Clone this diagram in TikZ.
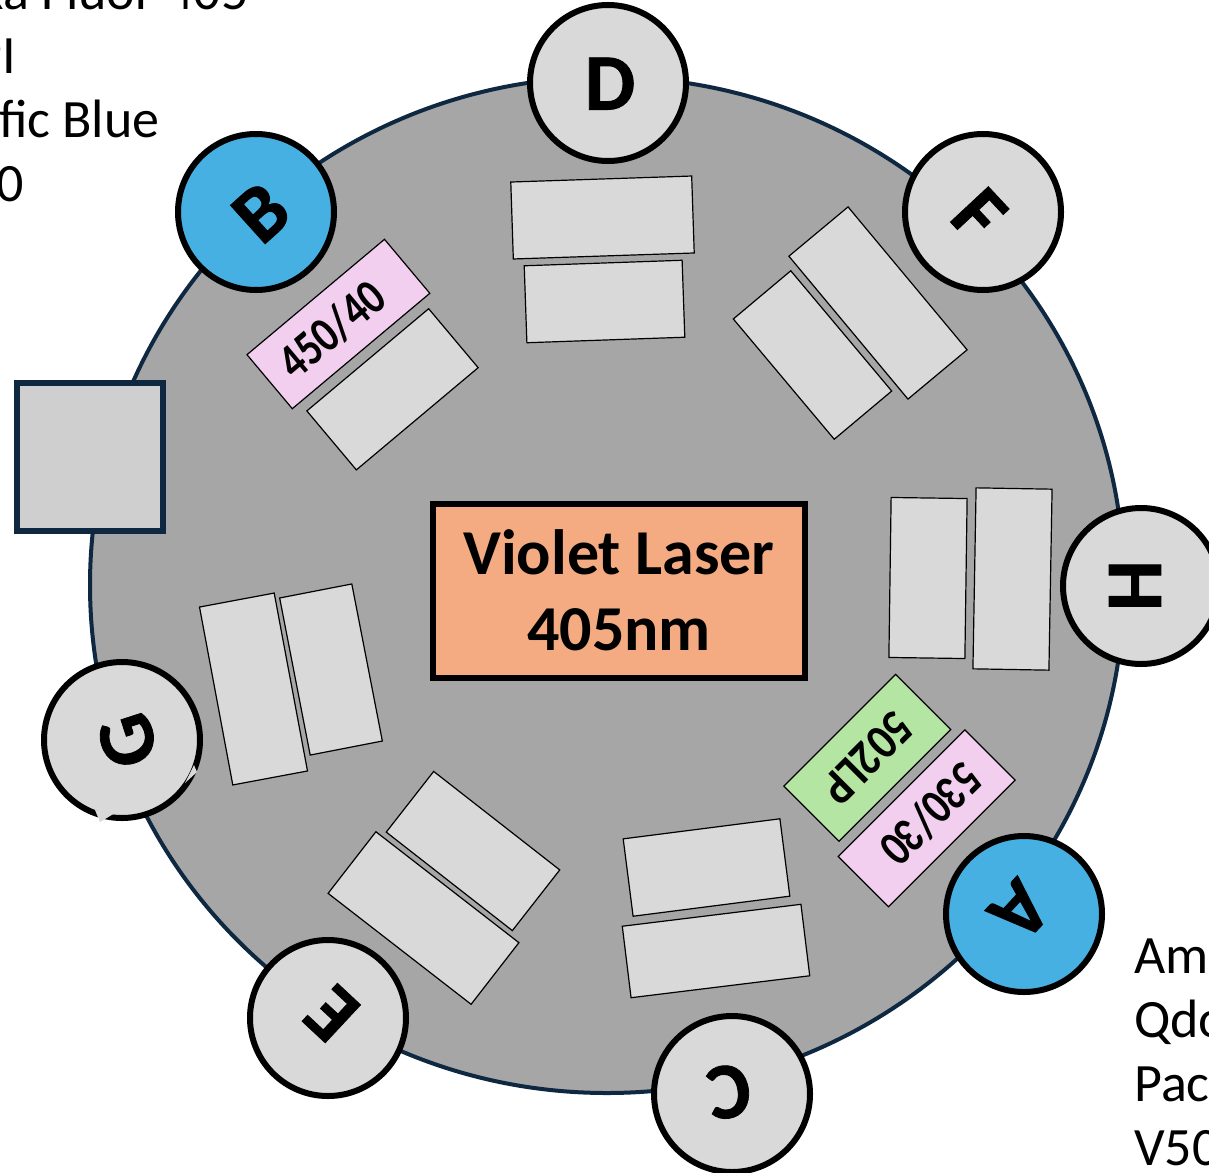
\documentclass[tikz,border=0pt]{standalone}
\usepackage{fontspec}
\setmainfont{Carlito}
\newfontfamily\portfont[FakeBold=1]{Carlito}
\newfontfamily\bandfont[FakeStretch=0.82]{Carlito}
\newfontfamily\passfont[FakeStretch=0.87]{Carlito}
\usepackage{tikz}
\usetikzlibrary{shapes.geometric}

\definecolor{navyline}{HTML}{0E2841}
\definecolor{wheelgray}{HTML}{A6A6A6}
\definecolor{portgray}{HTML}{D9D9D9}
\definecolor{portblue}{HTML}{45B0E1}
\definecolor{bandpink}{HTML}{F2CFEE}
\definecolor{passgreen}{HTML}{B4E5A2}
\definecolor{laserorange}{HTML}{F4AB82}
\definecolor{squaregray}{HTML}{CFCFCF}

% rotation, shift right, shift up, letter
\newcommand{\portletter}[4]{\makebox[0pt]{\hspace*{#2pt}\hspace*{#2pt}\raisebox{\dimexpr#3pt-.32em\relax}[0pt][0pt]{\rotatebox[origin=c]{#1}{#4}}}}

\begin{document}
\begin{tikzpicture}[
    x=1pt, y=-1pt,
    wheel/.style={ellipse, draw=navyline, line width=4pt, fill=wheelgray, inner sep=0pt,
                  minimum width=1034pt, minimum height=1016pt},
    port/.style={circle, draw=black, line width=6pt, fill=portgray, inner sep=0pt,
                 minimum size=156pt, font=\fontsize{80}{80}\portfont\bfseries},
    blueport/.style={port, fill=portblue},
    filterbox/.style={rectangle, draw=black, line width=1.2pt, fill=portgray, inner sep=0pt},
    bandpass/.style={filterbox, fill=bandpink, minimum width=179pt, minimum height=71pt,
                     font=\fontsize{50}{50}\bandfont\bfseries},
    longpass/.style={filterbox, fill=passgreen, minimum width=158pt, minimum height=78pt,
                     font=\fontsize{50}{50}\passfont\bfseries},
    fluors/.style={anchor=north west, align=left, inner sep=0pt,
                   font=\fontsize{54}{64}\selectfont}
]
    \useasboundingbox (0,0) rectangle (1209,1172);
    \clip (0,0) rectangle (1209,1172);

    % Main wheel
    \node[wheel] (wheel) at (607,585) {};

    % Square on the rim
    \node[rectangle, draw=navyline, line width=6pt, fill=squaregray, inner sep=0pt,
          minimum width=146pt, minimum height=148pt] (square) at (90,457) {};

    % Laser
    \node[rectangle, draw=black, line width=6pt, fill=laserorange, inner sep=0pt,
          minimum width=372pt, minimum height=174pt, align=center,
          font=\fontsize{64}{76}\bfseries\selectfont] (laser) at (619,590.5) {Violet Laser\\405nm};

    % Filters
    \node[filterbox, minimum width=181pt, minimum height=77pt, rotate=1.9] (d1) at (602.5,217.5) {};
    \node[filterbox, minimum width=158pt, minimum height=77pt, rotate=2] (d2) at (604.5,301.5) {};
    \node[filterbox, minimum width=186pt, minimum height=77pt, rotate=-50.2] (f1) at (878,303) {};
    \node[filterbox, minimum width=157pt, minimum height=75pt, rotate=-50] (f2) at (812.5,355) {};
    \node[filterbox, minimum width=76pt, minimum height=160pt, rotate=-0.8] (h1) at (928,578) {};
    \node[filterbox, minimum width=76pt, minimum height=181pt, rotate=-1] (h2) at (1012.5,579) {};
    \node[longpass, rotate=-135] (a1) at (867.3,757.8) {502LP};
    \node[bandpass, rotate=-135] (a2) at (926.7,818.3) {530/30\kern12pt};
    \node[filterbox, minimum width=158pt, minimum height=78pt, rotate=7.3] (c1) at (706.5,867.5) {};
    \node[filterbox, minimum width=180pt, minimum height=72pt, rotate=7] (c2) at (716,951) {};
    \node[filterbox, minimum width=160pt, minimum height=77pt, rotate=-38] (e1) at (473,851) {};
    \node[filterbox, minimum width=181pt, minimum height=78pt, rotate=-37.8] (e2) at (423.5,918) {};
    \node[filterbox, minimum width=76pt, minimum height=181pt, rotate=10.6] (g1) at (253.5,689) {};
    \node[filterbox, minimum width=73.5pt, minimum height=160pt, rotate=11] (g2) at (331,669.5) {};
    \node[bandpass, minimum width=179.5pt, minimum height=70.5pt, rotate=40] (b1) at (338.4,324) {450/40\kern17pt};
    \node[filterbox, minimum width=159pt, minimum height=77pt, rotate=40] (b2) at (392.5,389.3) {};

    % Ports
    \node[port] (portd) at (608,83) {\portletter{0}{2}{-1}{D}};
    \node[port] (portf) at (983,212) {\portletter{-47}{-4}{-3}{F}};
    \node[port] (porth) at (1141,586) {\portletter{-90}{-6}{0}{H}};
    \node[blueport] (porta) at (1024,914) {\portletter{-133}{-4}{3}{A}};
    \node[port] (portc) at (732,1094) {\portletter{-172}{-3}{2}{C}};
    \node[port] (porte) at (328,1018) {\portletter{137}{4}{4}{E}};
    \node[port] (portg) at (122,740) {\portletter{108}{6}{-1}{G}};
    \node[blueport] (portb) at (256,212) {\portletter{42}{5}{-1}{B}};

    % Notches on port G
    \fill[portgray] (95,810) -- (100,822) -- (115,813) -- cycle;
    \fill[portgray] (185,783) -- (197,772) -- (194,765) -- cycle;

    % Fluorochrome lists
    \node[fluors] (violetleft) at (-89,-28.5) {Alexa Fluor 405\\DAPI\\Pacific Blue\\V450};
    \node[fluors] (violetright) at (1134,938.5) {Amcyan\\Qdot 525\\Pacific Orange\\V500};
\end{tikzpicture}
\end{document}
